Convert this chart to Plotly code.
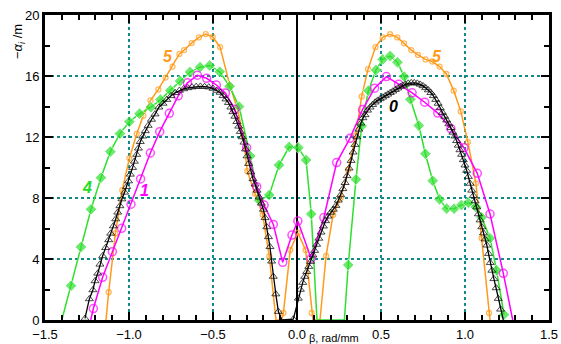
import plotly.graph_objects as go

# ---- data: series "0" (black, open triangles) ----
x0 = [-1.262, -1.236, -1.215, -1.202, -1.186, -1.173, -1.157, -1.139, -1.121, -1.109,
      -1.093, -1.079, -1.067, -1.054, -1.042, -1.026, -1.014, -1.003, -0.992, -0.979,
      -0.968, -0.954, -0.944, -0.933, -0.918, -0.903, -0.886, -0.866, -0.845, -0.822,
      -0.798, -0.775, -0.750, -0.725, -0.700, -0.675, -0.650, -0.625, -0.600, -0.575,
      -0.550, -0.525, -0.500, -0.478, -0.458, -0.440, -0.423, -0.408, -0.394, -0.381,
      -0.370, -0.358, -0.347, -0.337, -0.326, -0.316, -0.306, -0.297, -0.288, -0.275,
      -0.262, -0.250, -0.238, -0.225, -0.212, -0.200, -0.190, -0.180, -0.170, -0.161,
      -0.151, -0.141, -0.126, -0.111, -0.090, -0.022, 0.008, 0.020, 0.034, 0.046,
      0.058, 0.070, 0.081, 0.095, 0.105, 0.117, 0.130, 0.143, 0.157, 0.170,
      0.185, 0.200, 0.216, 0.232, 0.246, 0.260, 0.273, 0.286, 0.298, 0.310,
      0.322, 0.334, 0.345, 0.356, 0.368, 0.380, 0.392, 0.405, 0.420, 0.435,
      0.450, 0.465, 0.480, 0.495, 0.510, 0.525, 0.540, 0.555, 0.570, 0.585,
      0.600, 0.615, 0.630, 0.645, 0.662, 0.680, 0.698, 0.716, 0.733, 0.750,
      0.766, 0.782, 0.797, 0.812, 0.826, 0.840, 0.853, 0.866, 0.879, 0.891,
      0.904, 0.916, 0.928, 0.940, 0.950, 0.960, 0.970, 0.980, 0.990, 1.000,
      1.010, 1.020, 1.030, 1.040, 1.050, 1.060, 1.070, 1.080, 1.090, 1.100,
      1.110, 1.120, 1.130, 1.140, 1.150, 1.160, 1.172, 1.185, 1.198, 1.212, 1.228]
y0 = [0.10, 1.38, 1.97, 2.56, 3.06, 3.65, 4.20, 4.74, 5.25, 5.68,
      6.16, 6.62, 7.06, 7.48, 7.93, 8.37, 8.74, 9.11, 9.55, 9.99,
      10.40, 10.85, 11.26, 11.69, 12.05, 12.40, 12.75, 13.15, 13.50, 13.95,
      14.20, 14.45, 14.70, 14.90, 15.05, 15.15, 15.22, 15.27, 15.30, 15.32,
      15.30, 15.27, 15.18, 15.05, 14.92, 14.70, 14.48, 14.25, 13.95, 13.65,
      13.35, 13.00, 12.70, 12.35, 12.00, 11.65, 11.20, 10.75, 10.25, 9.70,
      9.25, 8.90, 8.50, 8.05, 7.65, 7.25, 6.70, 6.10, 5.45, 4.80,
      3.85, 2.85, 1.70, 0.55, 0.0, 0.05, 1.42, 2.00, 2.45, 2.85,
      3.17, 3.50, 3.83, 4.25, 4.55, 4.95, 5.35, 5.75, 6.15, 6.50,
      6.80, 7.05, 7.25, 7.50, 7.85, 8.20, 8.60, 9.00, 9.45, 9.95,
      10.45, 11.00, 11.50, 12.00, 12.50, 12.90, 13.25, 13.45, 13.75, 13.95,
      14.12, 14.28, 14.40, 14.50, 14.60, 14.70, 14.80, 14.90, 15.00, 15.10,
      15.20, 15.30, 15.38, 15.45, 15.52, 15.55, 15.55, 15.52, 15.45, 15.35,
      15.22, 15.08, 14.90, 14.70, 14.45, 14.20, 13.90, 13.60, 13.35, 13.10,
      12.85, 12.60, 12.30, 12.05, 11.75, 11.45, 11.15, 10.85, 10.50, 10.15,
      9.80, 9.40, 8.95, 8.50, 8.15, 7.80, 7.40, 6.95, 6.55, 6.10,
      5.70, 5.30, 4.90, 4.35, 3.75, 3.25, 2.70, 2.10, 1.40, 0.70, 0.0]

# ---- series "1" (magenta, open circles) ----
x1 = [-1.228, -1.212, -1.157, -1.099, -1.044, -0.988, -0.931, -0.873, -0.817, -0.760,
      -0.707, -0.652, -0.593, -0.538, -0.480, -0.426, -0.371, -0.300, -0.240, -0.196,
      -0.141, -0.085, -0.030, 0.005, 0.084, 0.160, 0.236, 0.315, 0.390, 0.462,
      0.532, 0.605, 0.685, 0.760, 0.838, 0.916, 0.994, 1.073, 1.149, 1.228, 1.284]
y1 = [0.0, 0.75, 2.80, 4.48, 6.01, 7.59, 9.25, 10.95, 12.35, 13.55,
      14.70, 15.55, 16.05, 15.85, 15.41, 14.88, 13.82, 11.30, 8.74, 7.54,
      6.27, 3.78, 5.57, 6.49, 4.04, 6.72, 10.32, 11.91, 13.80, 15.20,
      15.96, 15.46, 14.90, 14.28, 13.57, 12.55, 11.29, 9.62, 6.95, 3.06, 0.0]

# ---- series "4" (green, filled diamonds) ----
x4 = [-1.400, -1.345, -1.286, -1.226, -1.167, -1.111, -1.054, -0.998, -0.937, -0.870,
      -0.813, -0.754, -0.696, -0.637, -0.577, -0.520, -0.460, -0.401, -0.345, -0.278,
      -0.225, -0.165, -0.107, -0.046, 0.008, 0.054, 0.085, 0.119, 0.282, 0.305,
      0.351, 0.385, 0.425, 0.470, 0.510, 0.554, 0.598, 0.638, 0.675, 0.725,
      0.764, 0.808, 0.849, 0.891, 0.935, 0.978, 1.020, 1.065, 1.099, 1.149,
      1.188, 1.232]
y4 = [0.0, 2.25, 4.79, 7.26, 9.33, 11.04, 12.22, 13.00, 13.53, 13.95,
      14.45, 15.06, 15.67, 16.26, 16.58, 16.69, 16.28, 15.32, 14.00, 10.75,
      7.85, 8.20, 10.16, 11.35, 11.30, 10.49, 6.95, 0.0, 0.0, 3.61,
      9.22, 12.72, 15.04, 16.39, 17.09, 17.31, 16.90, 15.96, 14.47, 12.75,
      10.90, 9.13, 7.91, 7.30, 7.30, 7.54, 7.69, 7.41, 6.73, 5.36,
      3.26, 0.35]

# ---- series "5" (orange, small open circles) ----
x5 = [-1.137, -1.121, -1.081, -1.040, -0.998, -0.954, -0.915, -0.872, -0.825, -0.782,
      -0.741, -0.700, -0.672, -0.627, -0.584, -0.543, -0.502, -0.458, -0.400, -0.353,
      -0.320, -0.296, -0.250, -0.204, -0.165, -0.125, -0.092, -0.081, -0.040, 0.005,
      0.051, 0.087, 0.095, 0.137, 0.173, 0.215, 0.260, 0.305, 0.350, 0.385,
      0.423, 0.467, 0.510, 0.554, 0.597, 0.637, 0.680, 0.720, 0.765, 0.805,
      0.849, 0.889, 0.933, 0.975, 1.017, 1.065, 1.099, 1.143, 1.149]
y5 = [0.0, 1.82, 5.68, 8.52, 10.60, 12.20, 13.40, 14.40, 15.12, 15.90,
      16.62, 17.45, 17.70, 18.16, 18.53, 18.75, 18.56, 17.90, 15.40, 13.77,
      12.02, 9.76, 8.30, 6.90, 4.18, 0.0, 0.0, 0.46, 4.59, 5.72,
      4.59, 0.46, 0.0, 0.0, 4.20, 6.90, 8.00, 9.86, 12.10, 14.66,
      16.45, 17.90, 18.53, 18.74, 18.53, 18.14, 17.70, 17.38, 17.09, 16.95,
      16.62, 16.13, 15.04, 13.68, 11.66, 8.96, 5.36, 0.46, 0.0]

x_ticks = [-1.5, -1.0, -0.5, 0.0, 0.5, 1.0, 1.5]
y_ticks = [0, 4, 8, 12, 16, 20]

# curve labels: (text, x, y, colour)
labels = [("5", -0.766, 17.27, "#ff9a1a"), ("5", 0.832, 17.27, "#ff9a1a"),
          ("4", -1.248, 8.70, "#22dd22"), ("1", -0.909, 8.48, "#ff00ff"),
          ("0", 0.573, 14.03, "#000000")]

FONT = "Liberation Sans, Arial, sans-serif"


def sizes(ys, s):
    # markers hidden where the curve sits on the zero baseline
    return [0 if v == 0 else s for v in ys]


fig = go.Figure()
fig.add_trace(go.Scatter(x=x5, y=y5, mode="lines+markers",
                         line=dict(color="#ff9a1a", width=1.5),
                         marker=dict(symbol="circle-open", size=sizes(y5, 5),
                                     color="#ff9a1a", line=dict(width=1.3))))
fig.add_trace(go.Scatter(x=x4, y=y4, mode="lines+markers",
                         line=dict(color="#2ee02e", width=1.5),
                         marker=dict(symbol="diamond", size=sizes(y4, 9),
                                     color="#2ee02e")))
fig.add_trace(go.Scatter(x=x1, y=y1, mode="lines+markers",
                         line=dict(color="#ff00ff", width=1.5),
                         marker=dict(symbol="circle-open", size=sizes(y1, 8),
                                     color="#ff00ff", line=dict(width=1.5))))
fig.add_trace(go.Scatter(x=x0, y=y0, mode="lines+markers",
                         line=dict(color="#000000", width=1.3),
                         marker=dict(symbol="triangle-up-open", size=sizes(y0, 7),
                                     color="#000000", line=dict(width=1.0))))

for t, lx, ly, c in labels:
    fig.add_annotation(x=lx, y=ly, text="<b><i>%s</i></b>" % t, showarrow=False,
                       font=dict(family=FONT, size=16, color=c))

fig.add_annotation(xref="paper", yref="paper", x=-27 / 504, y=1 - 27 / 305,
                   text="−<i>α<sub>i</sub></i> /m", textangle=-90, showarrow=False,
                   xanchor="center", yanchor="middle",
                   font=dict(family=FONT, size=13, color="black"))
fig.add_annotation(xref="paper", yref="paper", x=(307 - 45) / 504, y=-18 / 305,
                   text="β, rad/mm", showarrow=False, xanchor="left", yanchor="middle",
                   font=dict(family=FONT, size=11, color="black"))

grid = dict(showgrid=True, gridcolor="#128a8a", griddash="dot", gridwidth=1.5)
fig.update_xaxes(range=[-1.5, 1.5], tickvals=x_ticks, tickformat=".1f",
                 ticks="inside", ticklen=8, tickwidth=2, tickcolor="black",
                 showline=True, linewidth=3, linecolor="black", mirror="ticks",
                 zeroline=True, zerolinecolor="black", zerolinewidth=2,
                 automargin=False,
                 minor=dict(dtick=0.1, ticks="inside", ticklen=5, tickwidth=1.5,
                            tickcolor="black", showgrid=False),
                 tickfont=dict(family=FONT, size=13, color="black"), **grid)
fig.update_yaxes(range=[0, 20], tickvals=y_ticks,
                 ticks="inside", ticklen=8, tickwidth=2, tickcolor="black",
                 showline=True, linewidth=3, linecolor="black", mirror="ticks",
                 zeroline=False, automargin=False,
                 minor=dict(dtick=2, ticks="inside", ticklen=5, tickwidth=1.5,
                            tickcolor="black", showgrid=False),
                 tickfont=dict(family=FONT, size=13, color="black"), **grid)

fig.update_layout(width=561, height=344, showlegend=False,
                  margin=dict(l=45, r=12, t=15, b=24),
                  plot_bgcolor="white", paper_bgcolor="white")

fig.write_html("out.html", config={"displayModeBar": False},
               post_script="document.body.style.margin='0';document.body.style.overflow='hidden';")
